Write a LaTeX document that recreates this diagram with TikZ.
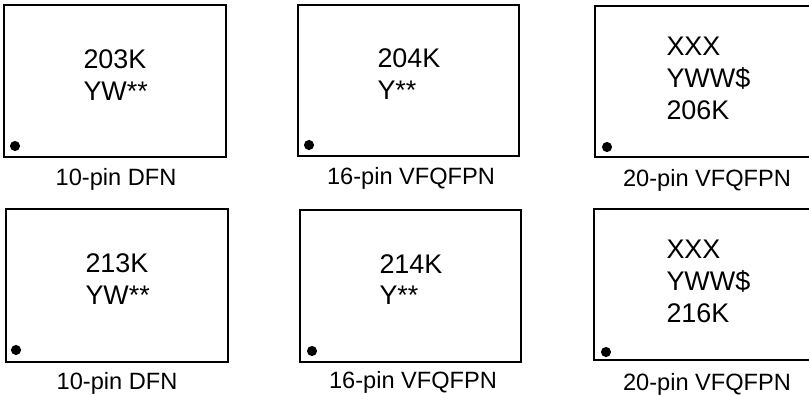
\documentclass[tikz,border=0pt]{standalone}
\usepackage{fontspec}
\setmainfont{Liberation Sans}

\tikzset{every picture/.style={line width=0.75pt}}
\tikzset{
  chipbox/.style={draw, line width=1.6pt},
  marktext/.style={anchor=base west, inner sep=0pt, font=\fontsize{20.2}{24}\selectfont},
  pkglabel/.style={anchor=base, inner sep=0pt, font=\fontsize{17.7}{21}\selectfont},
  pindot/.style={fill=black}
}

\begin{document}
\begin{tikzpicture}[x=0.75pt,y=0.75pt,yscale=-1,xscale=1]
\useasboundingbox (0,0) rectangle (809,394);

%Shape: Rectangle [top row]
\draw [chipbox] (4,5) rectangle (226,157);
\draw [chipbox] (298,5) rectangle (519,156);
\draw [chipbox] (595,6) rectangle (812,157);
%Shape: Rectangle [bottom row]
\draw [chipbox] (6,209) rectangle (228,362);
\draw [chipbox] (300,210) rectangle (521,362);
\draw [chipbox] (594,209) rectangle (812,360);

%Shape: Circle [pin 1 marks]
\fill [pindot] (15,146) circle (3.8pt);
\fill [pindot] (309,145) circle (3.8pt);
\fill [pindot] (607,147) circle (3.8pt);
\fill [pindot] (16,350) circle (3.8pt);
\fill [pindot] (312,351) circle (3.8pt);
\fill [pindot] (606,352) circle (3.8pt);

% Text Node
\node [marktext] (dfnA1) at (83,68) {203K};
\node [marktext] (dfnA2) at (83,100) {YW**};
% Text Node
\node [marktext] (qfnA1) at (377,67) {204K};
\node [marktext] (qfnA2) at (377,99) {Y**};
% Text Node
\node [marktext] (vqfA1) at (666,55) {XXX};
\node [marktext] (vqfA2) at (666,87) {YWW\$};
\node [marktext] (vqfA3) at (666,119) {206K};
% Text Node
\node [marktext] (dfnB1) at (85,272) {213K};
\node [marktext] (dfnB2) at (85,304) {YW**};
% Text Node
\node [marktext] (qfnB1) at (379,273) {214K};
\node [marktext] (qfnB2) at (379,304) {Y**};
% Text Node
\node [marktext] (vqfB1) at (666,258) {XXX};
\node [marktext] (vqfB2) at (666,290) {YWW\$};
\node [marktext] (vqfB3) at (666,322) {216K};

% Text Node
\node [pkglabel] (lblA1) at (116,185) {10-pin DFN};
\node [pkglabel] (lblA2) at (411,184) {16-pin VFQFPN};
\node [pkglabel] (lblA3) at (707,186) {20-pin VFQFPN};
\node [pkglabel] (lblB1) at (117,389) {10-pin DFN};
\node [pkglabel] (lblB2) at (413,388) {16-pin VFQFPN};
\node [pkglabel] (lblB3) at (707,390) {20-pin VFQFPN};

\end{tikzpicture}
\end{document}
